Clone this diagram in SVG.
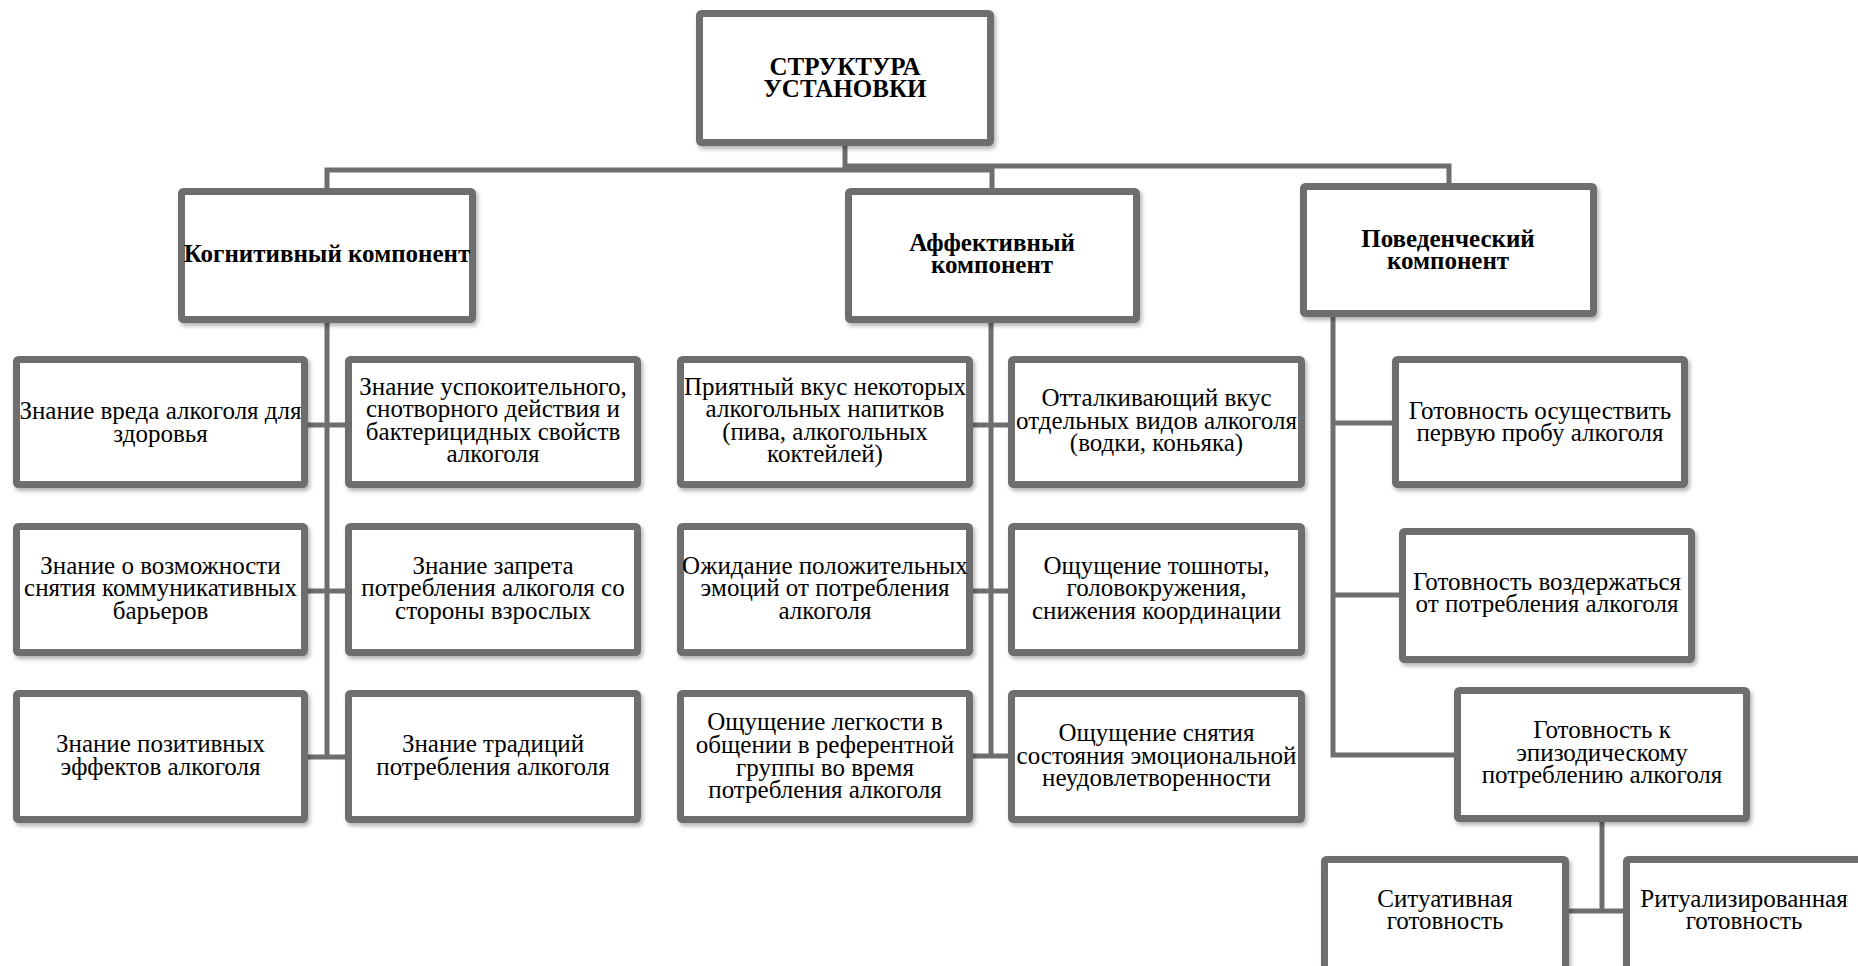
<svg xmlns="http://www.w3.org/2000/svg" width="1858" height="966" viewBox="0 0 1858 966">
<defs>
<filter id="sh" x="-5%" y="-5%" width="112%" height="115%">
<feDropShadow dx="2" dy="3" stdDeviation="2" flood-color="#000" flood-opacity="0.3"/>
</filter>
<style>
.box{fill:#fff;stroke:#6e6e6e;stroke-width:7;filter:url(#sh)}
.c{fill:none;stroke:#6e6e6e;stroke-width:5;stroke-linejoin:miter}
.t{font-family:"Liberation Serif","Times New Roman",serif;font-size:25px;text-anchor:middle;fill:#000}
.b{font-weight:bold}
</style>
</defs>
<rect width="1858" height="966" fill="#fff"/>
<g id="connectors">
<path class="c" d="M845,143 V172"/>
<path class="c" d="M327,190 V170 H992 V190"/>
<path class="c" d="M845,166 H1449 V185"/>
<path class="c" d="M327,320 V757"/>
<path class="c" d="M306,425 H347 M306,591 H347 M306,757 H347"/>
<path class="c" d="M991,320 V756"/>
<path class="c" d="M971,425 H1010 M971,591 H1010 M971,756 H1010"/>
<path class="c" d="M1333,314 V755 H1456"/>
<path class="c" d="M1333,423 H1394 M1333,595 H1401"/>
<path class="c" d="M1602,820 V911"/>
<path class="c" d="M1567,911 H1625"/>
</g>
<g id="root">
<rect class="box" x="699.5" y="13.5" width="291" height="129" rx="2"/>
<text class="t b" x="845" y="75">СТРУКТУРА</text>
<text class="t b" x="845" y="97">УСТАНОВКИ</text>
</g>
<g id="cog">
<rect class="box" x="181.5" y="191.5" width="291" height="128" rx="2"/>
<text class="t b" x="327" y="262">Когнитивный компонент</text>
</g>
<g id="aff">
<rect class="box" x="848.5" y="191.5" width="288" height="128" rx="2"/>
<text class="t b" x="992" y="251">Аффективный</text>
<text class="t b" x="992" y="273">компонент</text>
</g>
<g id="beh">
<rect class="box" x="1303.5" y="186.5" width="290" height="127" rx="2"/>
<text class="t b" x="1448" y="247">Поведенческий</text>
<text class="t b" x="1448" y="269">компонент</text>
</g>
<g id="c1r1">
<rect class="box" x="16.5" y="359.5" width="288" height="125" rx="2"/>
<text class="t" x="160.5" y="419">Знание вреда алкоголя для</text>
<text class="t" x="160.5" y="442">здоровья</text>
</g>
<g id="c2r1">
<rect class="box" x="348.5" y="359.5" width="289" height="125" rx="2"/>
<text class="t" x="493" y="395">Знание успокоительного,</text>
<text class="t" x="493" y="417">снотворного действия и</text>
<text class="t" x="493" y="440">бактерицидных свойств</text>
<text class="t" x="493" y="462">алкоголя</text>
</g>
<g id="c1r2">
<rect class="box" x="16.5" y="526.5" width="288" height="126" rx="2"/>
<text class="t" x="160.5" y="574">Знание о возможности</text>
<text class="t" x="160.5" y="596">снятия коммуникативных</text>
<text class="t" x="160.5" y="619">барьеров</text>
</g>
<g id="c2r2">
<rect class="box" x="348.5" y="526.5" width="289" height="126" rx="2"/>
<text class="t" x="493" y="574">Знание запрета</text>
<text class="t" x="493" y="596">потребления алкоголя со</text>
<text class="t" x="493" y="619">стороны взрослых</text>
</g>
<g id="c1r3">
<rect class="box" x="16.5" y="693.5" width="288" height="126" rx="2"/>
<text class="t" x="160.5" y="752">Знание позитивных</text>
<text class="t" x="160.5" y="775">эффектов алкоголя</text>
</g>
<g id="c2r3">
<rect class="box" x="348.5" y="693.5" width="289" height="126" rx="2"/>
<text class="t" x="493" y="752">Знание традиций</text>
<text class="t" x="493" y="775">потребления алкоголя</text>
</g>
<g id="c3r1">
<rect class="box" x="680.5" y="359.5" width="289" height="125" rx="2"/>
<text class="t" x="825" y="395">Приятный вкус некоторых</text>
<text class="t" x="825" y="417">алкогольных напитков</text>
<text class="t" x="825" y="440">(пива, алкогольных</text>
<text class="t" x="825" y="462">коктейлей)</text>
</g>
<g id="c4r1">
<rect class="box" x="1011.5" y="359.5" width="290" height="125" rx="2"/>
<text class="t" x="1156.5" y="406">Отталкивающий вкус</text>
<text class="t" x="1156.5" y="429">отдельных видов алкоголя</text>
<text class="t" x="1156.5" y="451">(водки, коньяка)</text>
</g>
<g id="c3r2">
<rect class="box" x="680.5" y="526.5" width="289" height="126" rx="2"/>
<text class="t" x="825" y="574">Ожидание положительных</text>
<text class="t" x="825" y="596">эмоций от потребления</text>
<text class="t" x="825" y="619">алкоголя</text>
</g>
<g id="c4r2">
<rect class="box" x="1011.5" y="526.5" width="290" height="126" rx="2"/>
<text class="t" x="1156.5" y="574">Ощущение тошноты,</text>
<text class="t" x="1156.5" y="596">головокружения,</text>
<text class="t" x="1156.5" y="619">снижения координации</text>
</g>
<g id="c3r3">
<rect class="box" x="680.5" y="693.5" width="289" height="126" rx="2"/>
<text class="t" x="825" y="730">Ощущение легкости в</text>
<text class="t" x="825" y="753">общении в референтной</text>
<text class="t" x="825" y="776">группы во время</text>
<text class="t" x="825" y="798">потребления алкоголя</text>
</g>
<g id="c4r3">
<rect class="box" x="1011.5" y="693.5" width="290" height="126" rx="2"/>
<text class="t" x="1156.5" y="741">Ощущение снятия</text>
<text class="t" x="1156.5" y="764">состояния эмоциональной</text>
<text class="t" x="1156.5" y="786">неудовлетворенности</text>
</g>
<g id="b1">
<rect class="box" x="1395.5" y="359.5" width="289" height="125" rx="2"/>
<text class="t" x="1540" y="419">Готовность осуществить</text>
<text class="t" x="1540" y="441">первую пробу алкоголя</text>
</g>
<g id="b2">
<rect class="box" x="1402.5" y="531.5" width="289" height="128" rx="2"/>
<text class="t" x="1547" y="590">Готовность воздержаться</text>
<text class="t" x="1547" y="612">от потребления алкоголя</text>
</g>
<g id="b3">
<rect class="box" x="1457.5" y="690.5" width="289" height="128" rx="2"/>
<text class="t" x="1602" y="738">Готовность к</text>
<text class="t" x="1602" y="761">эпизодическому</text>
<text class="t" x="1602" y="783">потреблению алкоголя</text>
</g>
<g id="s1">
<rect class="box" x="1324.5" y="859.5" width="241" height="130" rx="2"/>
<text class="t" x="1445" y="907">Ситуативная</text>
<text class="t" x="1445" y="929">готовность</text>
</g>
<g id="s2">
<rect class="box" x="1626.5" y="859.5" width="235" height="130" rx="2"/>
<text class="t" x="1744" y="907">Ритуализированная</text>
<text class="t" x="1744" y="929">готовность</text>
</g>
</svg>
